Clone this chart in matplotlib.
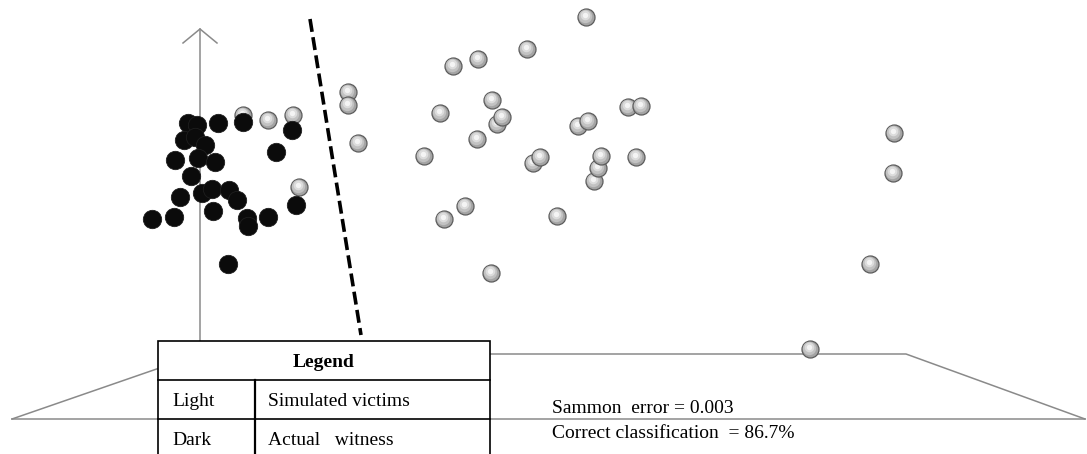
import matplotlib
matplotlib.use("Agg")
import matplotlib.pyplot as plt
from matplotlib.patches import Rectangle

light_x = [243, 268, 293, 299, 348, 348, 358,
           586, 527, 453, 478, 492, 440, 497, 502, 477, 424, 533, 540,
           578, 588, 628, 641, 594, 598, 601, 636, 465, 444, 557, 491,
           894, 893, 870, 810]
light_y = [115, 120, 115, 187, 92, 105, 143,
           17, 49, 66, 59, 100, 113, 124, 117, 139, 156, 163, 157,
           126, 121, 107, 106, 181, 168, 156, 157, 206, 219, 216, 273,
           133, 173, 264, 349]

dark_x = [188, 197, 218, 243, 292, 184, 195, 205, 276, 175, 198, 215, 191,
          180, 202, 212, 229, 237, 296, 152, 174, 213, 247, 248, 268, 228]
dark_y = [123, 125, 123, 122, 130, 140, 137, 145, 152, 160, 158, 162, 176,
          197, 193, 189, 190, 200, 205, 219, 217, 211, 218, 226, 217, 264]

legend_title = "Legend"
legend_rows = [("Light", "Simulated victims"), ("Dark", "Actual   witness")]
stats_lines = ["Sammon  error = 0.003", "Correct classification  = 86.7%"]

# ---- figure ----
W, H = 1087, 454
fig = plt.figure(figsize=(W / 100, H / 100), dpi=100)
ax = fig.add_axes([0, 0, 1, 1])
ax.set_xlim(0, W)
ax.set_ylim(H, 0)
ax.axis("off")

serif = ["Liberation Serif", "DejaVu Serif"]
grey = "#8a8a8a"

# floor (perspective plane)
ax.plot([12, 1085], [419, 419], color=grey, lw=1.1, zorder=1)
ax.plot([12, 200, 906, 1085], [419, 354, 354, 419], color=grey, lw=1.1, zorder=1)
# vertical axis with arrow head
ax.plot([200, 200], [354, 29], color=grey, lw=1.1, zorder=1)
ax.plot([183, 200, 217], [43, 29, 43], color=grey, lw=1.1, zorder=1)

# separating dashed line
ax.plot([310, 361], [19, 335], color="black", lw=2.6, dashes=(3.6, 1.5),
        solid_capstyle="butt", dash_capstyle="butt", zorder=2)

# light spheres (shaded)
S = 150
for i, (x, y) in enumerate(zip(light_x, light_y)):
    z = 3 + i * 0.01
    ax.scatter([x], [y], s=S, c="#a4a4a4", edgecolors="#5c5c5c", linewidths=0.9, zorder=z)
    ax.scatter([x - 0.6], [y - 0.9], s=S * 0.62, c="#c2c2c2", linewidths=0, zorder=z + 0.001)
    ax.scatter([x - 1.0], [y - 1.8], s=S * 0.32, c="#dcdcdc", linewidths=0, zorder=z + 0.002)
    ax.scatter([x - 1.2], [y - 2.4], s=S * 0.10, c="#f4f4f4", linewidths=0, zorder=z + 0.003)

# dark spheres
ax.scatter(dark_x, dark_y, s=175, c="#0b0b0b", edgecolors="#1e1e1e",
           linewidths=0.6, zorder=4)

# legend table
x0, x1, xc = 158, 490, 255
y0, y1, y2 = 341, 380, 418.5
ax.add_patch(Rectangle((x0, y0), x1 - x0, H + 10 - y0, facecolor="white",
                       edgecolor="black", lw=1.2, zorder=10))
ax.plot([x0, x1], [y1, y1], color="black", lw=1.2, zorder=11)
ax.plot([x0, x1], [y2, y2], color="black", lw=1.2, zorder=11)
ax.plot([xc, xc], [y1, H + 10], color="black", lw=1.6, zorder=11)

ax.text((x0 + x1) / 2, 367, legend_title, ha="center", va="baseline",
        fontsize=14, fontweight="bold", family=serif, zorder=12)
for (k, v), yb in zip(legend_rows, [406, 445]):
    ax.text(172, yb, k, ha="left", va="baseline", fontsize=14, family=serif, zorder=12)
    ax.text(268, yb, v, ha="left", va="baseline", fontsize=14, family=serif, zorder=12)

for line, yb in zip(stats_lines, [413, 438]):
    ax.text(552, yb, line, ha="left", va="baseline", fontsize=14, family=serif, zorder=12)

fig.savefig("out.png", dpi=100)
